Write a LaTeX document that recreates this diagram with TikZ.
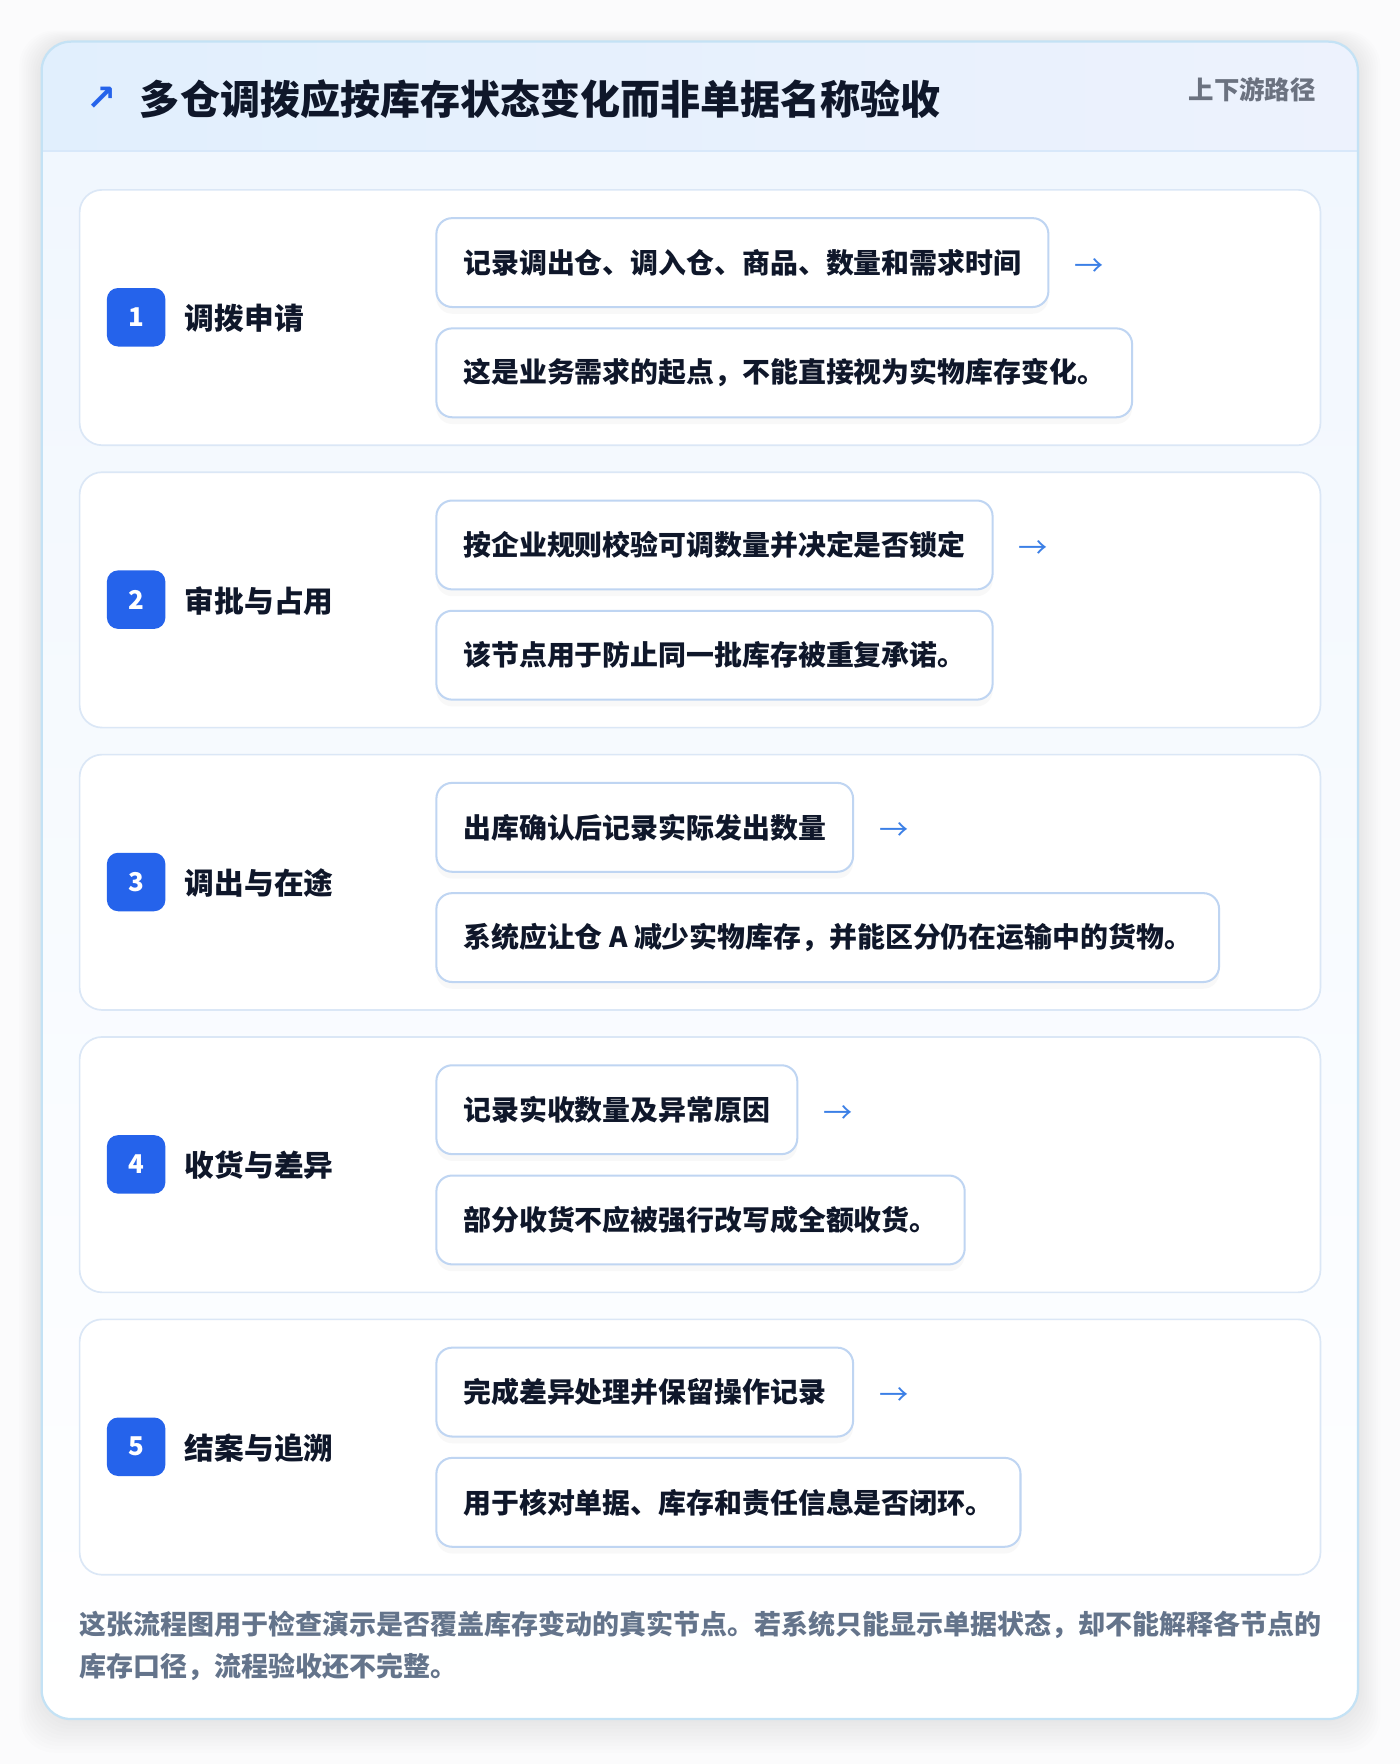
\documentclass[tikz,border=0pt]{standalone}
\usepackage{fontspec}
\setmainfont{Noto Sans CJK SC}
\newfontfamily\symfont{DejaVu Sans}
\usetikzlibrary{positioning,shadows}
\definecolor{ink}{HTML}{0F172A}
\definecolor{badgeblue}{HTML}{2563EB}
\definecolor{arrowblue}{HTML}{3B7FE6}
\definecolor{mutedgray}{HTML}{6B7280}
\definecolor{footgray}{HTML}{64748B}
\definecolor{cardline}{HTML}{DBE7F6}
\definecolor{boxline}{HTML}{BFD5F2}
\definecolor{outline}{HTML}{C4E2F5}
\definecolor{headline}{HTML}{D8E8FA}
\definecolor{headl}{HTML}{E1EFFD}
\definecolor{headr}{HTML}{EDF2FD}
\definecolor{bodytop}{HTML}{F1F7FE}
\definecolor{pagebg}{HTML}{FBFBFC}

\begin{document}
\begin{tikzpicture}[x=0.5pt, y=-0.5pt,
    card/.style={draw=cardline, line width=0.75pt, fill=white, rounded corners=10pt, anchor=north west, minimum width=551.5pt, minimum height=113.5pt},
    badge/.style={fill=badgeblue, text=white, rounded corners=5pt, minimum size=26pt, inner sep=0pt, font=\bfseries\fontsize{11.5}{11.5}\selectfont},
    steptitle/.style={anchor=west, inner sep=0pt, text=ink, font=\bfseries\fontsize{13.2}{13.2}\selectfont},
    infobox/.style={draw=boxline, line width=0.9pt, fill=white, rounded corners=7pt, minimum height=39.5pt, inner xsep=12pt, anchor=north west, text=ink, font=\bfseries\fontsize{12.4}{12.4}\selectfont, drop shadow={opacity=0.05, shadow xshift=0pt, shadow yshift=-3pt}},
    flowarrow/.style={text=arrowblue, inner sep=0pt, font=\fontsize{13}{13}\selectfont}
  ]
  \useasboundingbox (0,0) rectangle (1244,1568);
  \fill[pagebg] (0,0) rectangle (1244,1568);
  % soft shadow round the panel
  \foreach \k in {1,...,10}
    \fill[black, opacity=0.007, rounded corners=16pt] (37-2*\k,37-\k) rectangle (1207+2*\k,1528+3*\k);

  % panel
  \begin{scope}
    \clip[rounded corners=13pt] (37,37) rectangle (1207,1528);
    \shade[top color=bodytop, bottom color=white] (37,134) rectangle (1207,1528);
    \shade[left color=headl, right color=headr] (37,37) rectangle (1207,134);
  \end{scope}
  \draw[headline, line width=0.75pt] (37,134) -- (1207,134);
  \draw[outline, line width=1pt, rounded corners=13pt] (37,37) rectangle (1207,1528);

  % header
  \node[text=badgeblue, inner sep=0pt, font=\symfont\bfseries\fontsize{16}{16}\selectfont] (icon) at (90,88) {↗};
  \node[anchor=west, inner sep=0pt, text=ink, font=\bfseries\fontsize{17.8}{17.8}\selectfont] (title) at (124,88) {多仓调拨应按库存状态变化而非单据名称验收};
  \node[anchor=east, inner sep=0pt, text=mutedgray, font=\bfseries\fontsize{11.3}{11.3}\selectfont] (route) at (1170,80) {上下游路径};

  % steps
  \foreach \n/\name/\first/\second [count=\i from 0] in {
      1/调拨申请/{记录调出仓、调入仓、商品、数量和需求时间}/{这是业务需求的起点，不能直接视为实物库存变化。},
      2/审批与占用/{按企业规则校验可调数量并决定是否锁定}/{该节点用于防止同一批库存被重复承诺。},
      3/调出与在途/{出库确认后记录实际发出数量}/{系统应让仓 A 减少实物库存，并能区分仍在运输中的货物。},
      4/收货与差异/{记录实收数量及异常原因}/{部分收货不应被强行改写成全额收货。},
      5/结案与追溯/{完成差异处理并保留操作记录}/{用于核对单据、库存和责任信息是否闭环。}} {
    \pgfmathsetmacro\cardtop{168+251*\i}
    \node[card] (card\n) at (70,\cardtop) {};
    \node[badge] (badge\n) at (121,\cardtop+114) {\n};
    \node[steptitle] (name\n) at (164,\cardtop+115) {\name};
    \node[infobox] (first\n) at (387,\cardtop+25) {\first};
    \node[infobox] (second\n) at (387,\cardtop+123) {\second};
    \node[flowarrow, right=11pt of first\n, yshift=-2pt] (arrow\n) {→};
  }

  % footer note
  \node[anchor=north west, align=left, inner sep=0pt, text=footgray, font=\bfseries\fontsize{12}{18.5}\selectfont] (note) at (70,1432)
    {这张流程图用于检查演示是否覆盖库存变动的真实节点。若系统只能显示单据状态，却不能解释各节点的\\库存口径，流程验收还不完整。};
\end{tikzpicture}
\end{document}
